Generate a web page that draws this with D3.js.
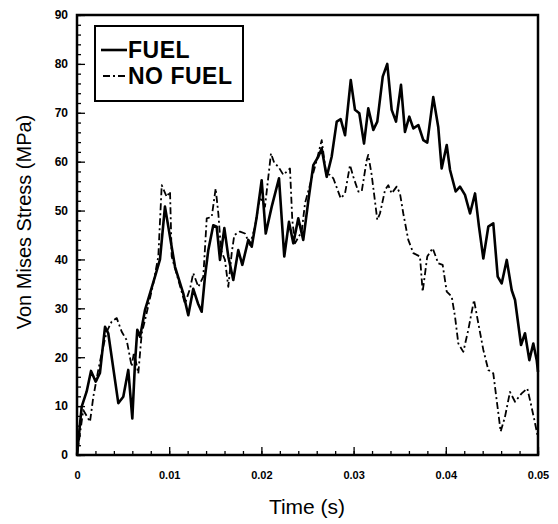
<!DOCTYPE html>
<html>
<head>
<script src="https://cdn.jsdelivr.net/npm/d3@7"></script>
<style>
  body { margin: 0; background: #fff; }
  text { font-family: "Liberation Sans", Arial, sans-serif; }
</style>
</head>
<body>
<div id="viz"></div>
<script>
// values: [time (s), stress (MPa)]
var fuel = [
  [0,0],[0.00051,9.9],[0.00105,13],[0.00152,17.2],[0.00203,15],[0.00249,16.8],[0.00304,26.2],
  [0.00339,24.9],[0.00448,10.6],[0.00502,11.9],[0.00556,17.4],[0.00600,7.5],[0.00629,18.8],
  [0.00654,25.6],[0.00684,24.2],[0.00738,29.7],[0.00846,36.5],[0.0090,40],[0.00954,50.8],
  [0.01063,38.5],[0.01153,33],[0.01207,28.6],[0.01261,34],[0.01312,31],[0.01352,29.3],
  [0.01388,36.5],[0.01424,41.9],[0.01478,47],[0.01515,46.7],[0.01551,39.9],[0.01598,46.4],
  [0.01641,40.6],[0.01695,35.8],[0.01749,41.9],[0.01793,38.9],[0.01858,44],[0.01895,42.6],
  [0.01949,48.7],[0.02003,56.2],[0.02047,45.3],[0.02112,50.8],[0.02191,56.6],[0.02248,40.6],
  [0.02299,47.7],[0.02346,43.3],[0.02400,48.4],[0.02454,44],[0.02509,52],[0.02563,59.3],
  [0.02617,61],[0.02654,62.7],[0.02708,56.9],[0.02762,61],[0.02817,68.2],[0.02860,68.7],
  [0.02907,65.4],[0.02969,76.7],[0.03015,70.6],[0.03062,69.9],[0.03113,63.7],[0.03159,70.9],
  [0.03214,66.5],[0.03257,68.2],[0.03316,77.4],[0.03365,80],[0.03413,70.6],[0.03460,68.2],
  [0.03514,75.7],[0.03557,66.1],[0.03604,69.2],[0.03648,66.8],[0.03702,67.5],[0.03756,64.4],
  [0.03799,63.9],[0.03864,73.2],[0.03918,67.1],[0.03955,58.6],[0.04010,63.4],[0.04046,58.3],
  [0.04107,53.9],[0.04154,54.9],[0.04208,53.2],[0.04263,49.4],[0.04317,53.5],[0.04360,46.7],
  [0.04407,40.2],[0.04461,46.7],[0.04515,47.4],[0.04563,36.5],[0.04606,35.1],[0.04661,39.9],
  [0.04715,33.7],[0.04751,31.7],[0.04816,22.5],[0.04859,24.9],[0.04906,19.4],[0.04949,22.8],
  [0.04986,19.4],[0.05,17]
];
var noFuel = [
  [0,0],[0.00068,9.2],[0.00141,6.8],[0.00177,11.9],[0.00231,17.4],[0.00268,20.8],[0.00322,25.2],
  [0.00376,27.3],[0.00431,28],[0.00485,25.2],[0.00539,23.5],[0.00593,18.1],[0.00618,21],
  [0.00665,16.7],[0.00702,24.9],[0.00738,27.6],[0.00828,35.1],[0.00882,40.6],[0.00919,55.2],
  [0.00973,52.8],[0.01009,53.9],[0.01027,40.6],[0.01099,35.8],[0.01171,31],[0.01226,34],
  [0.01261,37.2],[0.01316,34.4],[0.01370,36.5],[0.01407,48.4],[0.01461,48.7],[0.01504,54.5],
  [0.01533,49.4],[0.01562,41.9],[0.01605,39.9],[0.01641,34.4],[0.01678,41.3],[0.01706,45],
  [0.01768,45.7],[0.01822,45.3],[0.01876,43],[0.01931,46.7],[0.01985,52.8],[0.02039,50.8],
  [0.02104,61.7],[0.02140,59.7],[0.02183,59],[0.02238,57.3],[0.02310,58.6],[0.02335,48.1],
  [0.02364,43.3],[0.02437,45.7],[0.02473,51.5],[0.02546,56.6],[0.02600,60.3],[0.02654,64.4],
  [0.02701,57.6],[0.02744,57.3],[0.02780,56.6],[0.02860,52.5],[0.02907,53.5],[0.02961,59.3],
  [0.02997,56.9],[0.03051,53.9],[0.03088,53.9],[0.03142,60.3],[0.03159,61.4],[0.03196,57.3],
  [0.03257,48.1],[0.03286,49.4],[0.03341,54.2],[0.03376,55.2],[0.03413,53.5],[0.03467,54.9],
  [0.03503,53.5],[0.03539,49.4],[0.03593,44],[0.03648,41.3],[0.03720,40.6],[0.03749,33.4],
  [0.03799,40.6],[0.03858,42.3],[0.03918,39.2],[0.03966,38.9],[0.04010,33.4],[0.04064,32.4],
  [0.04100,28.3],[0.04136,22.8],[0.04190,21.1],[0.04244,25.6],[0.04306,31.7],[0.04353,26.9],
  [0.04407,21.5],[0.04461,17.4],[0.04515,16.7],[0.04552,11.2],[0.04595,4.8],[0.04642,7.8],
  [0.04696,12.9],[0.04751,10.9],[0.04823,12.6],[0.04884,13.6],[0.04921,10.6],[0.04968,6.5],
  [0.04995,4]
];
var xTicks = [0, 0.01, 0.02, 0.03, 0.04, 0.05];
var xTickLabels = ["0", "0.01", "0.02", "0.03", "0.04", "0.05"];
var yTicks = [0, 10, 20, 30, 40, 50, 60, 70, 80, 90];
var legendNames = ["FUEL", "NO FUEL"];

var W = 558, H = 524;
var pL = 77, pR = 538, pT = 15, pB = 455;

var svg = d3.select("#viz").append("svg").attr("width", W).attr("height", H);

var x = d3.scaleLinear().domain([0, 0.05]).range([pL, pR]);
var y = d3.scaleLinear().domain([0, 90]).range([pB, pT]);

// inward ticks: bottom axis and left axis
var xAxis = d3.axisBottom(x).tickValues(d3.range(0, 0.0501, 0.002)).tickSize(-4).tickFormat("");
svg.append("g").attr("transform", "translate(0," + pB + ")").call(xAxis);
var xMajor = d3.axisBottom(x).tickValues(xTicks).tickSize(-8).tickPadding(16)
  .tickFormat(function(d, i){ return xTickLabels[i]; });
var gx = svg.append("g").attr("transform", "translate(0," + pB + ")").call(xMajor);
gx.selectAll("text").style("font-size", "11px").style("font-weight", "bold")
  .style("font-family", "'Liberation Sans', Arial, sans-serif").attr("fill", "#000");

var yAxis = d3.axisLeft(y).tickValues(d3.range(0, 90.1, 2)).tickSize(-4).tickFormat("");
svg.append("g").attr("transform", "translate(" + pL + ",0)").call(yAxis);
var yMajor = d3.axisLeft(y).tickValues(yTicks).tickSize(-8).tickPadding(9).tickFormat(d3.format("d"));
var gy = svg.append("g").attr("transform", "translate(" + pL + ",0)").call(yMajor);
gy.selectAll("text").style("font-size", "12px").style("font-weight", "bold")
  .style("font-family", "'Liberation Sans', Arial, sans-serif").attr("fill", "#000");

svg.selectAll(".domain").remove();
svg.selectAll(".tick line").attr("stroke", "#000").attr("stroke-width", 1.3);

// frame
svg.append("rect").attr("x", pL).attr("y", pT).attr("width", pR - pL).attr("height", pB - pT)
  .attr("fill", "none").attr("stroke", "#000").attr("stroke-width", 2.5);

var line = d3.line().x(function(d){ return x(d[0]); }).y(function(d){ return y(d[1]); });

svg.append("path").datum(noFuel).attr("d", line)
  .attr("fill", "none").attr("stroke", "#000").attr("stroke-width", 1.8)
  .attr("stroke-dasharray", "7,3,2,3").attr("stroke-linejoin", "round");

svg.append("path").datum(fuel).attr("d", line)
  .attr("fill", "none").attr("stroke", "#000").attr("stroke-width", 2.6)
  .attr("stroke-linejoin", "round");

// legend
var lg = svg.append("g");
lg.append("rect").attr("x", 95).attr("y", 26).attr("width", 148).attr("height", 75)
  .attr("fill", "#fff").attr("stroke", "#000").attr("stroke-width", 2);
lg.append("line").attr("x1", 101).attr("x2", 127).attr("y1", 50).attr("y2", 50)
  .attr("stroke", "#000").attr("stroke-width", 2.6);
lg.append("line").attr("x1", 103).attr("x2", 127).attr("y1", 76).attr("y2", 76)
  .attr("stroke", "#000").attr("stroke-width", 1.8).attr("stroke-dasharray", "7,3,2,3");
lg.selectAll("text.lab").data(legendNames).enter().append("text")
  .attr("x", 128).attr("y", function(d, i){ return 58 + i * 26; })
  .style("font-size", "23px").style("font-weight", "bold").style("letter-spacing", "0.5px")
  .text(function(d){ return d; });

// axis titles
svg.append("text").attr("x", 307).attr("y", 514).attr("text-anchor", "middle")
  .style("font-size", "21px").text("Time (s)");
svg.append("text").attr("transform", "translate(31,222) rotate(-90)")
  .attr("text-anchor", "middle").style("font-size", "20px").text("Von Mises Stress (MPa)");
</script>
</body>
</html>
